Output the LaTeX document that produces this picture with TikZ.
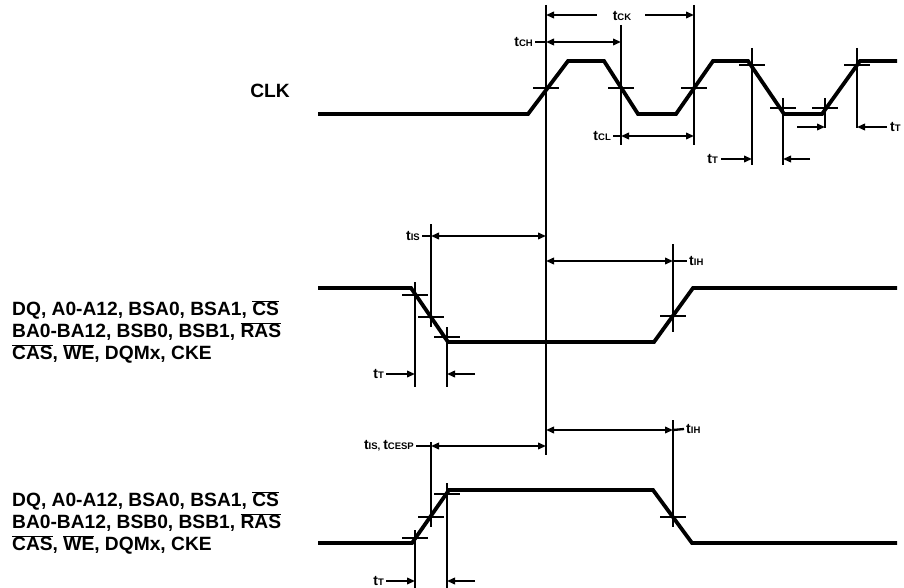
\documentclass[tikz,border=0pt]{standalone}
\usepackage{fontspec}
\setmainfont{Liberation Sans}
\usetikzlibrary{arrows.meta,positioning}
\lineskiplimit=-20pt
\newcommand\ovl[1]{$\overline{\hbox{#1}}$}
\newcommand\tsub[1]{{\fontsize{14}{14}\selectfont t}{\fontsize{9.5}{9.5}\selectfont #1}}
\tikzset{
wave/.style={line width=3.8pt},
tickmark/.style={line width=2.7pt},
refline/.style={line width=2.7pt},
dim/.style={line width=2.3pt},
>={Triangle[length=8pt,width=6.5pt]},
signame/.style={font=\bfseries\fontsize{19.2}{22}\selectfont, align=left, inner sep=0pt},
tlab/.style={font=\bfseries, inner sep=0pt},
}

\begin{document}
\begin{tikzpicture}[x=1pt,y=-1pt]
    \useasboundingbox (0,0) rectangle (904,588);

    % signal names
    \node[signame] (clk) at (270,91) {CLK};
    \node[signame,anchor=west] (bus1) at (12,332) {DQ, A0-A12, BSA0, BSA1, \ovl{CS}\\BA0-BA12, BSB0, BSB1, \ovl{RAS}\\\ovl{CAS}, \ovl{WE}, DQMx, CKE};
    \node[signame,anchor=west] (bus2) at (12,523) {DQ, A0-A12, BSA0, BSA1, \ovl{CS}\\BA0-BA12, BSB0, BSB1, \ovl{RAS}\\\ovl{CAS}, \ovl{WE}, DQMx, CKE};

    % waveforms
    \draw[wave] (318,114) -- (528,114) -- (568,61) -- (604,61) -- (638,114) -- (676,114)
        -- (713,61) -- (748,61) -- (784,114) -- (822,114) -- (860,61) -- (897,61);
    \draw[wave] (318,288) -- (411,288) -- (448,342) -- (654,342) -- (693,288) -- (897,288);
    \draw[wave] (318,543) -- (412,543) -- (449,490) -- (653,490) -- (692,543) -- (897,543);

    % level marks
    \foreach \x/\y in {546/88, 621/88, 694/88, 752/65, 783/108, 825/108, 857/65,
                       415/295, 431/317, 447/337, 673/316,
                       415/538, 431/517, 447/494, 673/517}
        \draw[tickmark] (\x-13,\y) -- (\x+13,\y);

    % reference lines
    \foreach \x/\a/\b in {546/5/455, 621/25/145, 694/5/145, 752/48/165, 783/98/165,
                          825/98/128, 857/48/128,
                          415/282/387, 431/224/327, 447/327/387, 673/244/332,
                          415/530/588, 431/442/527, 447/483/588, 673/420/527}
        \draw[refline] (\x,\a) -- (\x,\b);

    % clock timing
    \node[tlab] (tck) at (622,16) {\tsub{CK}};
    \draw[dim,<-] (546,15) -- (597,15);
    \draw[dim,->] (645,15) -- (694,15);

    \node[tlab,anchor=east] (tch) at (533,42) {\tsub{CH}};
    \draw[dim] (tch.east) ++(2,0) -- (546,42);
    \draw[dim,<->] (546,42) -- (621,42);

    \node[tlab,anchor=east] (tcl) at (611,136) {\tsub{CL}};
    \draw[dim] (tcl.east) ++(2,0) -- (621,136);
    \draw[dim,<->] (621,136) -- (694,136);

    \node[tlab,anchor=east] (tt1) at (718,159) {\tsub{T}};
    \draw[dim,->] (tt1.east) ++(3,0) -- (752,159);
    \draw[dim,->] (810,159) -- (783,159);

    \node[tlab,anchor=west] (tt2) at (890,127) {\tsub{T}};
    \draw[dim,->] (tt2.west) ++(-3,0) -- (857,127);
    \draw[dim,->] (797,127) -- (825,127);

    % first bus timing
    \node[tlab,anchor=east] (tis1) at (420,236) {\tsub{IS}};
    \draw[dim] (tis1.east) ++(2,0) -- (431,236);
    \draw[dim,<->] (431,236) -- (546,236);

    \node[tlab,anchor=west] (tih1) at (689,261) {\tsub{IH}};
    \draw[dim,<->] (546,261) -- (673,261);
    \draw[dim] (673,261) -- ([xshift=-2pt]tih1.west);

    \node[tlab,anchor=east] (tt3) at (384,374) {\tsub{T}};
    \draw[dim,->] (tt3.east) ++(2,0) -- (415,374);
    \draw[dim,->] (475,374) -- (447,374);

    % second bus timing
    \node[tlab,anchor=east] (tis2) at (414,446) {\tsub{IS}, \tsub{CESP}};
    \draw[dim] (tis2.east) ++(2,0) -- (431,446);
    \draw[dim,<->] (431,446) -- (546,446);

    \node[tlab,anchor=west] (tih2) at (686,429) {\tsub{IH}};
    \draw[dim,<->] (546,430) -- (673,430);
    \draw[dim] (673,430) -- ([xshift=-2pt]tih2.west);

    \node[tlab,anchor=east] (tt4) at (384,581) {\tsub{T}};
    \draw[dim,->] (tt4.east) ++(2,0) -- (415,581);
    \draw[dim,->] (475,581) -- (447,581);

\end{tikzpicture}
\end{document}
